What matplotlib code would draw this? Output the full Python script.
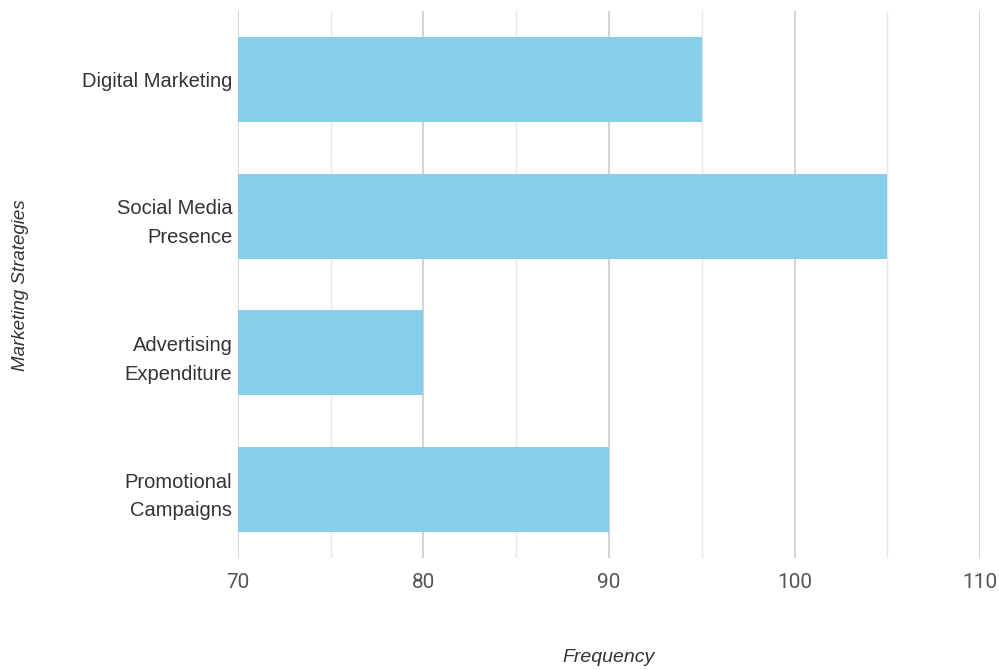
import matplotlib.pyplot as plt
from matplotlib.ticker import MultipleLocator

strategies = ["Digital Marketing", "Social Media\nPresence", "Advertising\nExpenditure", "Promotional\nCampaigns"]
frequency = [95, 105, 80, 90]

fig = plt.figure(figsize=(9.99, 6.70), dpi=100)
ax = fig.add_axes([0.2382, 0.1672, 0.9810 - 0.2382, 0.9836 - 0.1672])

pos = list(range(len(strategies)))
ax.barh(pos, [f - 70 for f in frequency], left=70, height=0.62, color="#87CEEB", zorder=2)

ax.set_xlim(70, 110)
ax.set_ylim(len(strategies) - 0.5, -0.5)
ax.xaxis.set_major_locator(MultipleLocator(10))
ax.xaxis.set_minor_locator(MultipleLocator(5))
ax.grid(axis="x", which="major", color="#cccccc", linewidth=1.2, zorder=0)
ax.grid(axis="x", which="minor", color="#e6e6e6", linewidth=1.0, zorder=0)
ax.set_axisbelow(True)
for s in ax.spines.values():
    s.set_visible(False)

ax.set_yticks(pos)
ax.set_yticklabels(strategies, family="Liberation Sans", fontsize=14.5, color="#333333", linespacing=1.65)
ax.tick_params(axis="y", length=0, pad=4)
ax.tick_params(axis="x", which="both", length=0, pad=11, labelsize=15, labelcolor="#555555")
for lbl in ax.get_xticklabels():
    lbl.set_family("Roboto")

fig.text(0.6096, 0.018, "Frequency", ha="center", va="center", style="italic",
         family="Liberation Sans", fontsize=14, color="#333333")
fig.text(0.021, 0.575, "Marketing Strategies", ha="center", va="center", rotation=90,
         style="italic", family="Liberation Sans", fontsize=13.5, color="#333333")

fig.savefig("out.png", dpi=100)
